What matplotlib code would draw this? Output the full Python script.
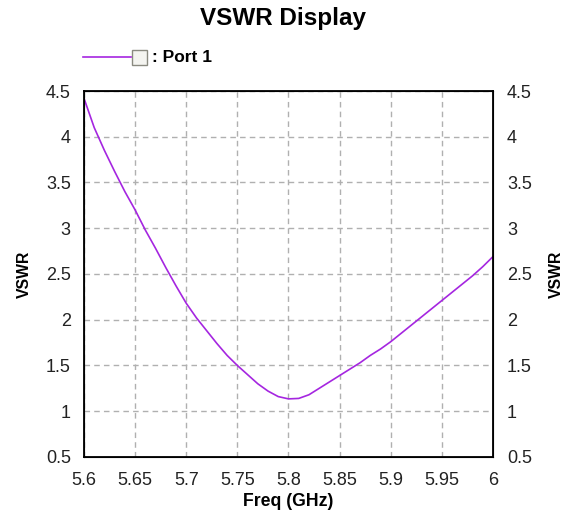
import matplotlib
matplotlib.use("Agg")
import matplotlib.pyplot as plt
from matplotlib.lines import Line2D
from matplotlib.patches import Rectangle

# Données
freq = [5.60, 5.61, 5.62, 5.63, 5.64, 5.65, 5.66, 5.67, 5.68, 5.69, 5.70,
        5.71, 5.72, 5.73, 5.74, 5.75, 5.76, 5.77, 5.78, 5.79, 5.80,
        5.81, 5.82, 5.83, 5.84, 5.85, 5.86, 5.87, 5.88, 5.89, 5.90,
        5.91, 5.92, 5.93, 5.94, 5.95, 5.96, 5.97, 5.98, 5.99, 6.00]
vswr = [4.42, 4.10, 3.85, 3.62, 3.40, 3.20, 2.98, 2.78, 2.57, 2.37, 2.18,
        2.02, 1.88, 1.74, 1.61, 1.50, 1.40, 1.30, 1.22, 1.16, 1.135,
        1.14, 1.18, 1.25, 1.32, 1.39, 1.46, 1.53, 1.61, 1.68, 1.76,
        1.85, 1.94, 2.03, 2.12, 2.21, 2.30, 2.39, 2.48, 2.58, 2.69]
xticks = [5.6, 5.65, 5.7, 5.75, 5.8, 5.85, 5.9, 5.95, 6.0]
xticklabels = ['5.6', '5.65', '5.7', '5.75', '5.8', '5.85', '5.9', '5.95', '6']
yticks = [0.5, 1, 1.5, 2, 2.5, 3, 3.5, 4, 4.5]
yticklabels = ['0.5', '1', '1.5', '2', '2.5', '3', '3.5', '4', '4.5']

plt.rcParams['font.family'] = ['Liberation Sans', 'DejaVu Sans']

fig = plt.figure(figsize=(5.66, 5.13), dpi=100)
ax = fig.add_axes([0.1484, 0.1092, 0.7226, 0.7134])

cor = '#a526e0'
ax.plot(freq, vswr, color=cor, lw=1.2)

ax.set_xlim(5.6, 6.0)
ax.set_ylim(0.5, 4.5)
ax.set_xticks(xticks)
ax.set_xticklabels(xticklabels)
ax.set_yticks(yticks)
ax.set_yticklabels(yticklabels)
ax.tick_params(length=0, labelsize=13, labelcolor='#222222')
ax.tick_params(axis='y', pad=9.5)
ax.tick_params(axis='x', pad=11)
ax.grid(True, linestyle=(0, (4, 3)), color='#b0b0b0', lw=1)
for s in ax.spines.values():
    s.set_linewidth(1.3)

ax.set_xlabel('Freq (GHz)', fontsize=12.7, fontweight='bold', labelpad=3)
ax.set_ylabel('VSWR', fontsize=11.3, fontweight='bold', labelpad=10)

ax2 = ax.twinx()
ax2.set_ylim(0.5, 4.5)
ax2.set_yticks(yticks)
ax2.set_yticklabels(yticklabels)
ax2.tick_params(length=0, labelsize=13, labelcolor='#222222', pad=10)
ax2.set_ylabel('VSWR', fontsize=11.3, fontweight='bold', labelpad=12)

fig.text(0.5, 1 - 18 / 513, 'VSWR Display', ha='center', va='center', fontsize=17.5, fontweight='bold')

# Légende dessinée à la main
y_leg = 1 - 57 / 513
fig.add_artist(Line2D([83 / 566, 131 / 566], [y_leg, y_leg], color=cor, lw=1.2))
fig.add_artist(Rectangle((132 / 566, 1 - 65 / 513), 15 / 566, 15 / 513,
                         facecolor='#f4f4f0', edgecolor='#8a8a80', lw=1))
fig.text(152 / 566, y_leg, ': Port 1', ha='left', va='center', fontsize=12.5, fontweight='bold')

fig.savefig('out.png', dpi=100)
